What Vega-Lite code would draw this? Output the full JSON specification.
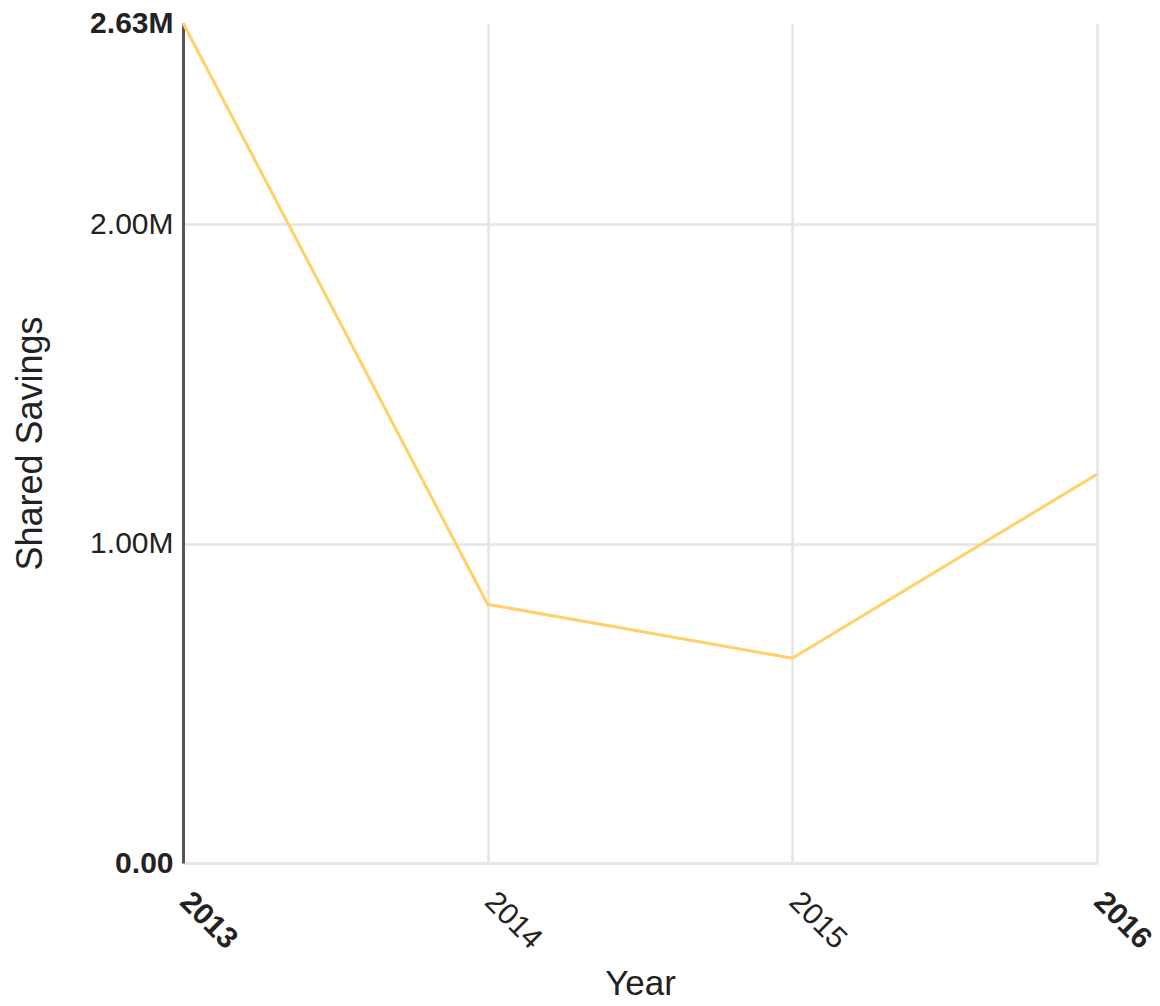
{
  "$schema": "https://vega.github.io/schema/vega-lite/v6.json",
  "autosize": "none",
  "width": 914,
  "height": 840,
  "padding": {"left": 183, "top": 23, "right": 63, "bottom": 143},
  "background": "white",
  "config": {
    "view": {"stroke": null},
    "font": "Liberation Sans"
  },
  "data": {
    "values": [
      {"Year": "2013", "Shared Savings": 2630000},
      {"Year": "2014", "Shared Savings": 810000},
      {"Year": "2015", "Shared Savings": 641000},
      {"Year": "2016", "Shared Savings": 1217000}
    ]
  },
  "mark": {"type": "line", "color": "#FFD166", "strokeWidth": 3},
  "encoding": {
    "x": {
      "field": "Year",
      "type": "ordinal",
      "scale": {"type": "point", "padding": 0},
      "axis": {
        "title": "Year",
        "titleFont": "Liberation Sans",
        "titleFontSize": 35,
        "titleFontWeight": "normal",
        "titleColor": "#222222",
        "titlePadding": 12,
        "labelFont": "Liberation Sans",
        "labelFontSize": 30,
        "labelAngle": 45,
        "labelPadding": 23,
        "labelOffset": 12,
        "labelColor": "#222222",
        "labelFontWeight": {"condition": {"test": "datum.value == '2013' || datum.value == '2016'", "value": "bold"}, "value": "normal"},
        "ticks": false,
        "domain": true,
        "domainColor": "#e6e6e6",
        "domainWidth": 3,
        "grid": true,
        "gridColor": "#e4e4e4",
        "gridWidth": 2.5
      }
    },
    "y": {
      "field": "Shared Savings",
      "type": "quantitative",
      "scale": {"domain": [0, 2630000], "nice": false, "zero": true},
      "axis": {
        "title": "Shared Savings",
        "titleFont": "Liberation Sans",
        "titleFontSize": 36,
        "titleFontWeight": "normal",
        "titleColor": "#222222",
        "titlePadding": 40,
        "values": [0, 1000000, 2000000, 2630000],
        "labelExpr": "datum.value == 0 ? '0.00' : format(datum.value / 1000000, '.2f') + 'M'",
        "labelFont": "Liberation Sans",
        "labelFontSize": 30,
        "labelPadding": 10,
        "labelColor": "#222222",
        "labelFontWeight": {"condition": {"test": "datum.value == 0 || datum.value > 2500000", "value": "bold"}, "value": "normal"},
        "labelBaseline": "middle",
        "ticks": false,
        "domain": true,
        "domainColor": "#555555",
        "domainWidth": 3,
        "grid": true,
        "gridColor": {"condition": {"test": "datum.value > 2500000 || datum.value == 0", "value": "transparent"}, "value": "#e4e4e4"},
        "gridWidth": 2.5
      }
    }
  }
}
